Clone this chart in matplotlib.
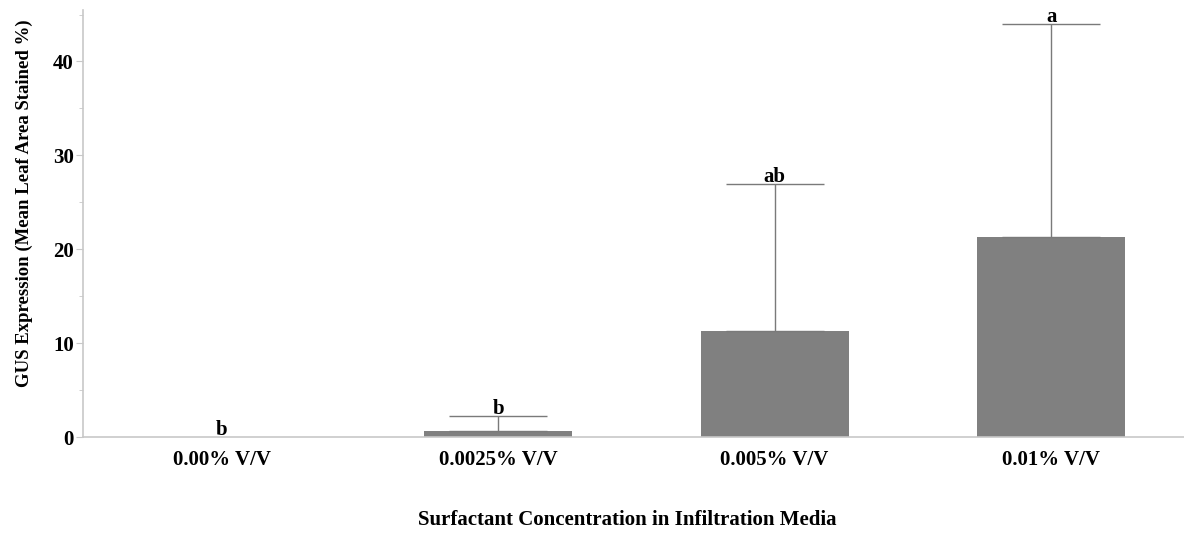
import matplotlib.pyplot as plt
from matplotlib.ticker import MultipleLocator

# Data
categories = ["0.00% V/V", "0.0025% V/V", "0.005% V/V", "0.01% V/V"]
means = [0.0, 0.65, 11.3, 21.3]
err_upper = [0.0, 1.6, 15.6, 22.7]
letters = ["b", "b", "ab", "a"]

plt.rcParams['font.family'] = ['Liberation Serif', 'DejaVu Serif']
plt.rcParams['font.weight'] = 'bold'

fig = plt.figure(figsize=(11.84, 5.36), dpi=100)
ax = fig.add_axes([0.0705, 0.1847, 0.934, 0.797])

x = list(range(len(categories)))
ax.bar(x, means, width=0.535, color='#808080', linewidth=0, zorder=2)

# error bars only where there is a spread
ex = [i for i in x if err_upper[i] > 0]
ax.errorbar(ex, [means[i] for i in ex],
            yerr=[[0] * len(ex), [err_upper[i] for i in ex]], fmt='none',
            ecolor='#7a7a7a', elinewidth=1.0, capsize=35, capthick=1.0, zorder=3)

for i, (m, e, lab) in enumerate(zip(means, err_upper, letters)):
    ax.text(i, m + e - 0.3, lab, ha='center', va='bottom', fontsize=15,
            fontweight='bold', zorder=4)

ax.set_xlim(-0.5, 3.5)
ax.set_ylim(0, 45.5)
ax.set_xticks(x)
ax.set_xticklabels(categories, fontsize=15, fontweight='bold')
ax.tick_params(axis='x', length=0, pad=9)
ax.yaxis.set_major_locator(MultipleLocator(10))
ax.yaxis.set_minor_locator(MultipleLocator(5))
ax.tick_params(axis='y', which='major', length=5, color='#c8c8c8', labelsize=15, pad=2)
ax.tick_params(axis='y', which='minor', length=3, color='#c8c8c8')
for t in ax.get_yticklabels():
    t.set_fontweight('bold')

for s in ['top', 'right']:
    ax.spines[s].set_visible(False)
for s in ['left', 'bottom']:
    ax.spines[s].set_color('#c8c8c8')
    ax.spines[s].set_linewidth(1.2)

ax.set_ylabel("GUS Expression (Mean Leaf Area Stained %)", fontsize=13.5,
              fontweight='bold')
ax.yaxis.set_label_coords(0.028, 0.62, transform=fig.transFigure)
ax.yaxis.label.set_ha('center')
ax.set_xlabel("Surfactant Concentration in Infiltration Media", fontsize=15,
              fontweight='bold')
ax.xaxis.set_label_coords(0.53, 0.03, transform=fig.transFigure)
ax.xaxis.label.set_va('center')

fig.savefig("out.png", dpi=100)
